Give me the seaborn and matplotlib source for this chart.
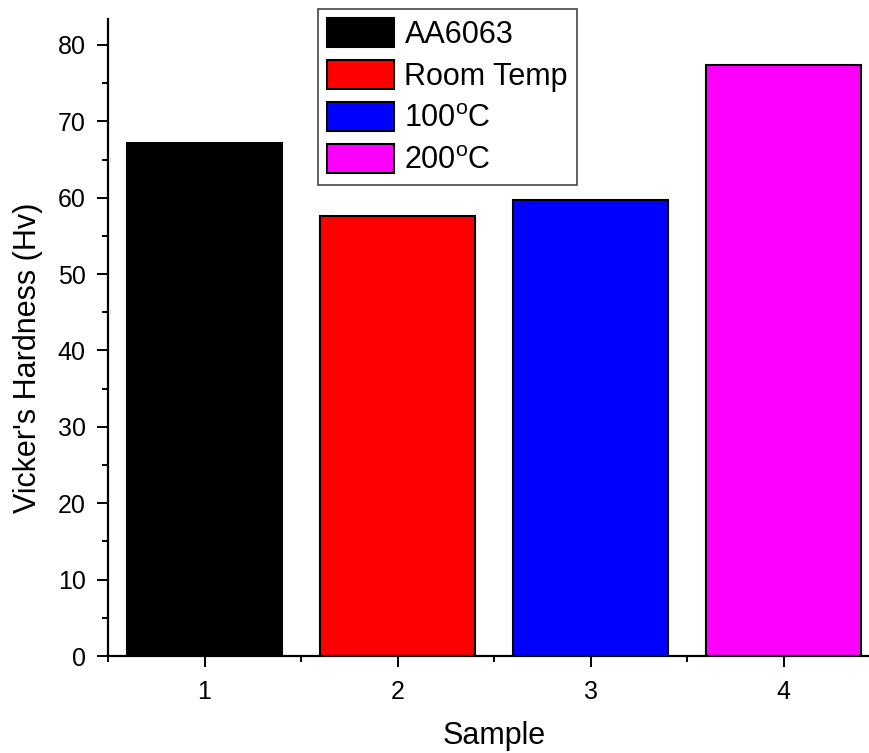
import matplotlib
matplotlib.use("Agg")
import matplotlib.pyplot as plt
import seaborn as sns
import pandas as pd
from matplotlib.ticker import MultipleLocator

samples = [1, 2, 3, 4]
hardness = [67.2, 57.6, 59.7, 77.4]
labels = ["AA6063", "Room Temp", r"100$^\mathrm{o}$C", r"200$^\mathrm{o}$C"]
colors = ["#000000", "#FF0000", "#0000FF", "#FF00FF"]

sns.set_theme(style="ticks")
plt.rcParams["font.family"] = ["Liberation Sans", "DejaVu Sans"]
plt.rcParams["mathtext.fontset"] = "custom"
plt.rcParams["mathtext.rm"] = "Liberation Sans"
plt.rcParams["mathtext.it"] = "Liberation Sans:italic"
plt.rcParams["text.color"] = "black"
plt.rcParams["axes.labelcolor"] = "black"

df = pd.DataFrame({"Sample": samples, "Hv": hardness, "Group": labels})

fig = plt.figure(figsize=(8.69, 7.53), dpi=100)
ax = fig.add_axes([108 / 869, 97 / 753, 772 / 869, 637 / 753])

sns.barplot(data=df, x="Sample", y="Hv", hue="Group", hue_order=labels,
            palette=colors, dodge=False, native_scale=True, width=0.8,
            edgecolor="black", linewidth=1.5, saturation=1, ax=ax)

ax.set_xlim(0.5, 4.5)
ax.set_ylim(0, 83.4)
ax.set_xticks(samples)
ax.set_xticklabels([str(s) for s in samples])
ax.xaxis.set_minor_locator(MultipleLocator(0.5))
ax.yaxis.set_major_locator(MultipleLocator(10))
ax.yaxis.set_minor_locator(MultipleLocator(5))

for side in ["top", "right"]:
    ax.spines[side].set_visible(False)
for side in ["left", "bottom"]:
    ax.spines[side].set_linewidth(1.6)
    ax.spines[side].set_color("black")

ax.tick_params(axis="both", which="major", direction="out", length=8,
               width=1.4, labelsize=18, colors="black")
ax.tick_params(axis="both", which="minor", direction="out", length=4,
               width=1.4, colors="black")
ax.tick_params(axis="x", which="major", pad=9)
ax.tick_params(axis="y", which="major", pad=8)

ax.set_xlabel("Sample", fontsize=22, color="black")
ax.set_ylabel("Vicker's Hardness (Hv)", fontsize=22, color="black")
ax.xaxis.set_label_coords(0.5, -0.102)
ax.yaxis.set_label_coords(-0.084, 0.468)

handles, labs = ax.get_legend_handles_labels()
leg = ax.legend(handles, labs, loc="upper left", bbox_to_anchor=(210 / 772, 1.0157),
                fontsize=22, frameon=True, fancybox=False, framealpha=1,
                edgecolor="#444444", handlelength=2.2, handleheight=1.08,
                labelspacing=0.33, handletextpad=0.33, borderpad=0.3,
                borderaxespad=0, labelcolor="black")
leg.get_frame().set_linewidth(1.2)

fig.savefig("out.png", dpi=100)
